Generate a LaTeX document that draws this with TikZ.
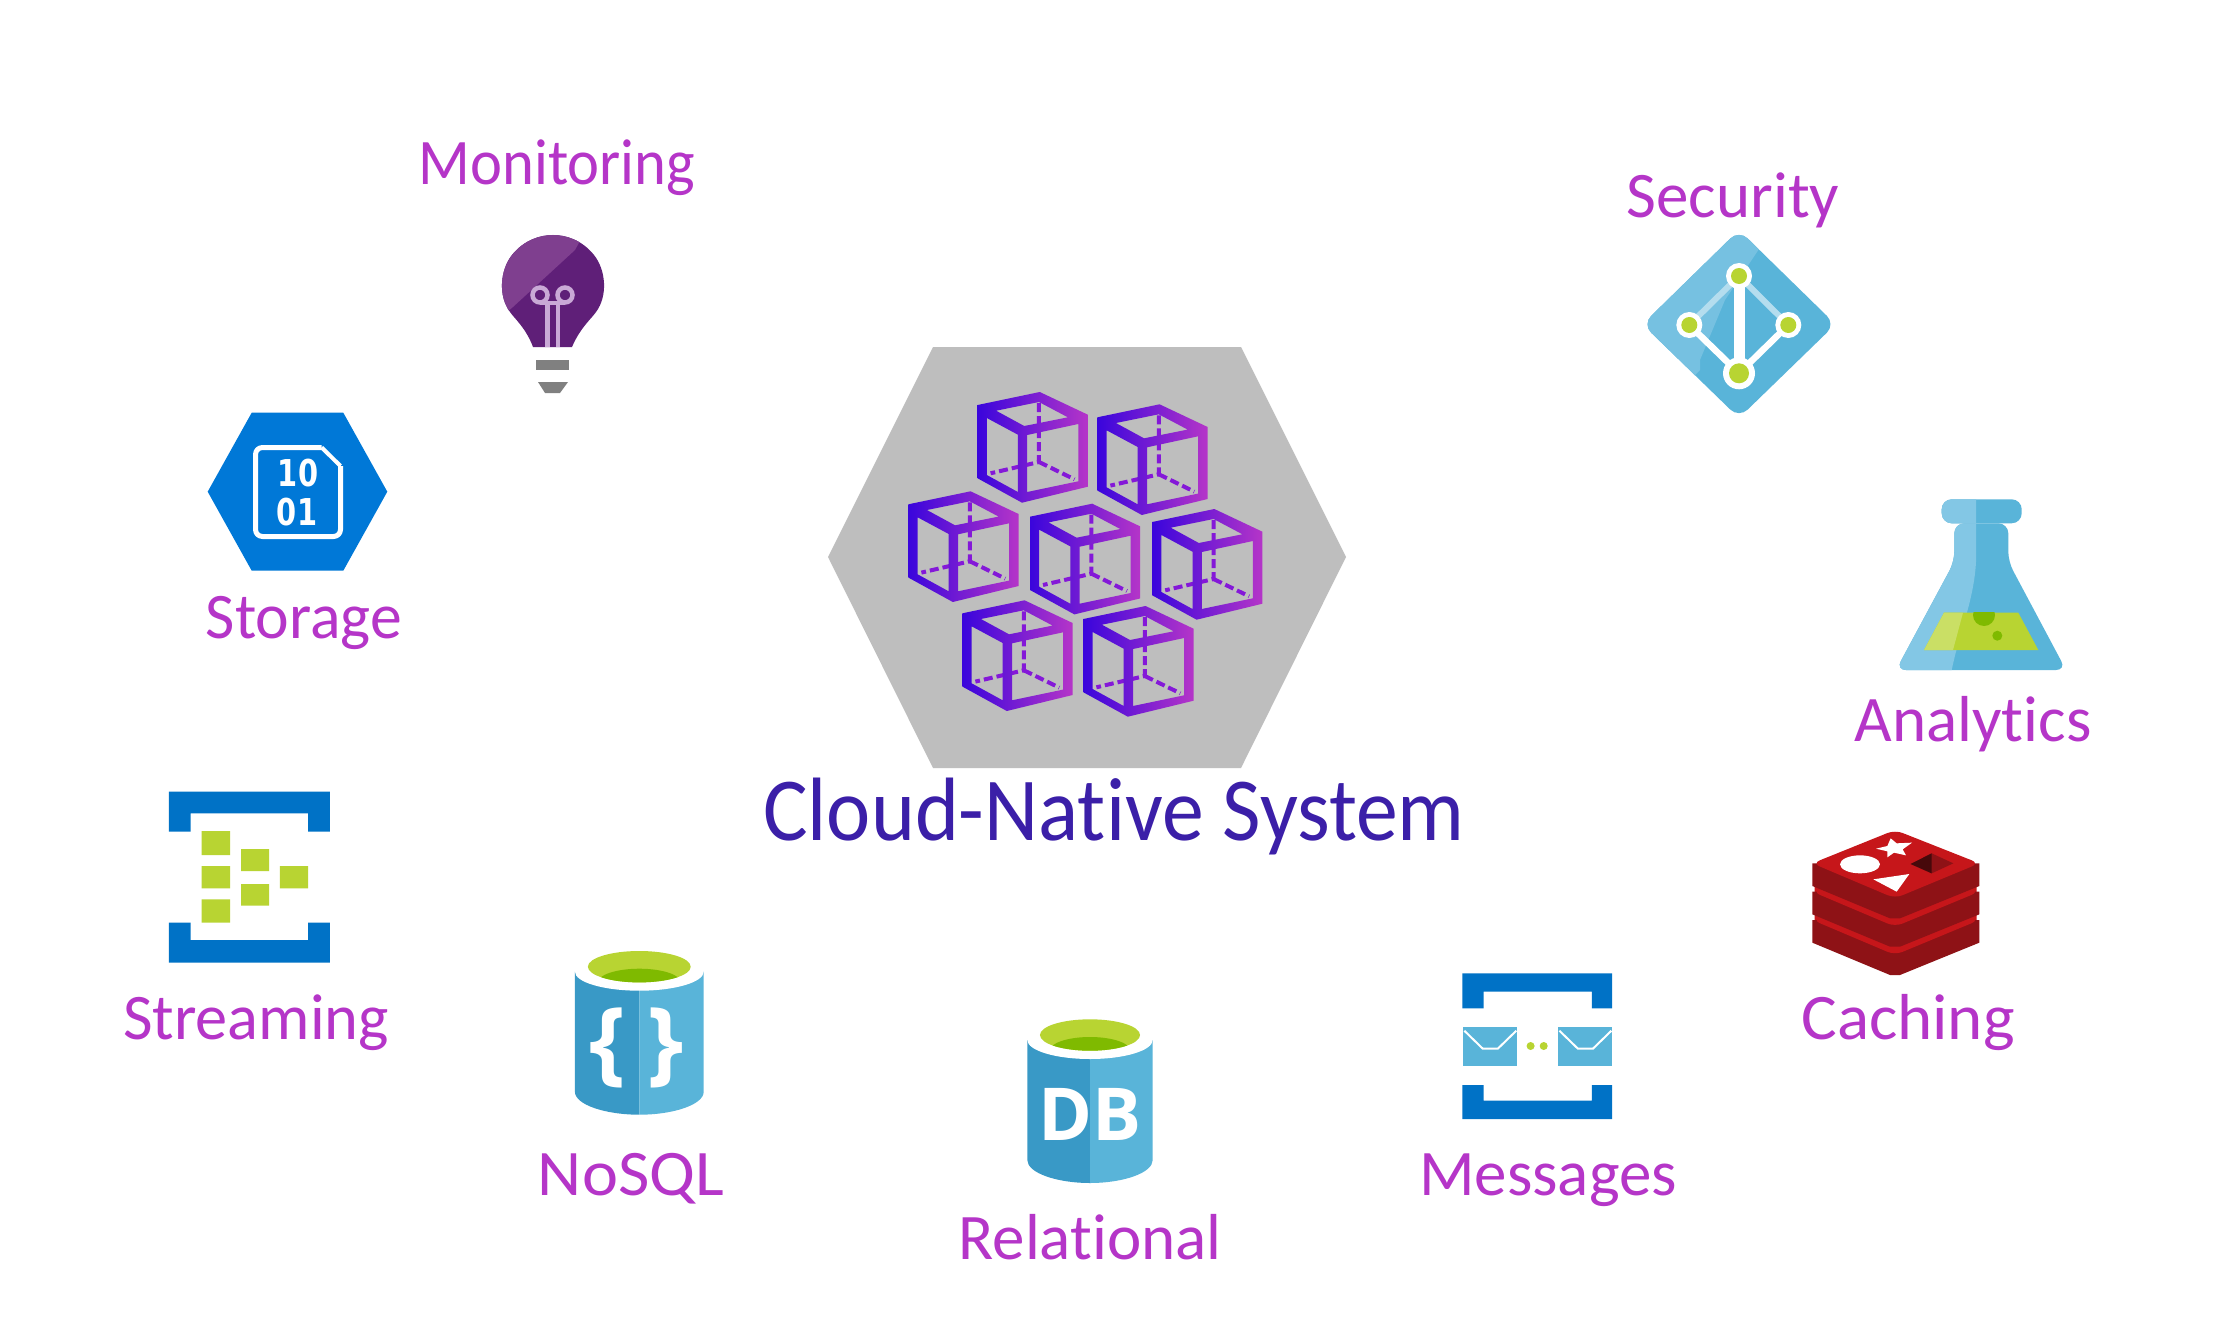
\documentclass[tikz,border=0pt]{standalone}
\usepackage{fontspec}
\usepackage{graphicx}
\setmainfont[Ligatures=NoCommon]{Carlito}
\newfontfamily\iconfont{Open Sans}
\newfontfamily\bitfont{DejaVu Sans}
\definecolor{labelc}{HTML}{B535C8}
\definecolor{titlec}{HTML}{3B1FA8}
\definecolor{hexc}{HTML}{BEBEBE}
\definecolor{azure}{HTML}{59B4D9}
\definecolor{azurelt}{HTML}{83C7E5}
\definecolor{azuredk}{HTML}{3999C6}
\definecolor{navy}{HTML}{0072C6}
\definecolor{leaf}{HTML}{B8D432}
\definecolor{leafdk}{HTML}{7FBA00}
\definecolor{bulbdk}{HTML}{5F1F78}
\definecolor{bulblt}{HTML}{7F3F8F}
\definecolor{filament}{HTML}{C9A9D6}
\definecolor{redlt}{HTML}{C6161A}
\definecolor{reddk}{HTML}{8E1216}
\definecolor{cubel}{HTML}{3A05DC}
\definecolor{cuber}{HTML}{B535C8}
\definecolor{cubedash}{HTML}{8418D8}
\tikzset{
  lab/.style={anchor=base,inner sep=0pt,text=labelc,font=\fontsize{65}{78}\selectfont},
  kubecube/.pic={
    \draw[line width=4,color=cubedash,dash pattern=on 9pt off 4pt] (55.3,-2) -- (55.3,57) -- (11.7,68.3);
    \draw[line width=4,color=cubedash,dash pattern=on 9pt off 4pt] (55.3,57) -- (87.3,74.3);
    \shade[even odd rule,left color=cubel,right color=cuber]
      (0,0) -- (56,-13) -- (99.3,9.7) -- (99.3,81.7) -- (40,97.7) -- (0,73.3) -- cycle
      (16.7,5.7) -- (55.3,-3) -- (81.3,12.3) -- (42,21) -- cycle
      (8.3,13) -- (36.3,29.7) -- (36.3,87) -- (8.3,70) -- cycle
      (44.7,30) -- (90.7,19) -- (90.7,76.3) -- (44.7,87) -- cycle;
  },
  dbcyl/.pic={
    \fill[azuredk] (-57,0) -- (-57,120) .. controls (-57,133) and (-30,143) .. (0,143) -- (0,0) -- cycle;
    \fill[azure] (57,0) -- (57,120) .. controls (57,133) and (30,143) .. (0,143) -- (0,0) -- cycle;
    \fill[white] (0,0) ellipse [x radius=57,y radius=19];
    \fill[leaf] (0,-5) ellipse [x radius=45.5,y radius=15.7];
    \begin{scope}
      \clip (0,-5) ellipse [x radius=45.5,y radius=15.7];
      \fill[leafdk] (0,11) ellipse [x radius=37,y radius=14];
    \end{scope}
  },
  envelope/.pic={
    \fill[azure] (0,0) rectangle (54,39.5);
    \draw[white,line width=2] (1,4) -- (19.5,22) -- (34.5,22) -- (53,4);
  }
}
\begin{document}
\begin{tikzpicture}[x=1pt,y=-1pt]
\useasboundingbox (0,0) rectangle (2239,1343);
\fill[white] (0,0) rectangle (2239,1343);

% central hexagon and cubes
\fill[hexc] (933,347) -- (1241,347) -- (1346,557) -- (1241,768) -- (933,768) -- (828,557) -- cycle;
\pic[xscale=1.11] at (977.6,405) {kubecube};
\pic[xscale=1.11] at (1097.4,417.3) {kubecube};
\pic[xscale=1.11] at (908.4,504.3) {kubecube};
\pic[xscale=1.11] at (1030,516.7) {kubecube};
\pic[xscale=1.11] at (1152.2,522) {kubecube};
\pic[xscale=1.11] at (962.4,613.3) {kubecube};
\pic[xscale=1.11] at (1083.4,619) {kubecube};
\node[anchor=base,inner sep=0pt,text=titlec,font=\fontsize{90}{108}\selectfont] (title) at (1114,840) {\scalebox{0.93}[1]{Cloud-Native System}};

% monitoring bulb
\begin{scope}
  \path[save path=\bulbpath] (533,347) .. controls (526,328) and (514,318) .. (510,312)
     .. controls (498,296) and (500,270) .. (512,255) .. controls (524,240) and (540,235) .. (553,235)
     .. controls (566,235) and (582,240) .. (594,255) .. controls (606,270) and (608,296) .. (596,312)
     .. controls (592,318) and (580,328) .. (572,347) -- cycle;
  \fill[bulbdk,use path=\bulbpath];
  \clip[use path=\bulbpath];
  \fill[bulblt] (495,230) -- (586,230) -- (575,250) -- (513,307) -- (495,322) -- cycle;
\end{scope}
\draw[color=filament,line width=4.5] (540,295) circle [radius=7.5] (565,295) circle [radius=7.5];
\draw[color=filament,line width=4.5] (547.5,347) -- (547.5,303) (558,347) -- (558,303) (540,303) -- (565,303);
\fill[black!50] (536,360) rectangle (569,370);
\fill[black!50] (538,382) -- (568,382) -- (560,393) -- (545,393) -- cycle;
\node[lab] (monitoring) at (557,185) {\scalebox{0.932}[1]{Monitoring}};

% storage
\fill[color={rgb,255:red,0;green,120;blue,215}] (251.7,412.7) -- (343.3,412.7) -- (387.3,491.7) -- (343.3,570.7) -- (251.7,570.7) -- (207.7,491.7) -- cycle;
\draw[white,line width=5,rounded corners=7,line join=round] (321.7,447.5) -- (255.5,447.5) -- (255.5,536.5) -- (340.5,536.5) -- (340.5,466);
\draw[white,line width=4] (321.7,447.5) -- (340.5,466);
\node[inner sep=0pt,text=white,font=\bitfont\bfseries\fontsize{37}{37}\selectfont] (bits1) at (298,473) {\scalebox{0.78}[1]{10}};
\node[inner sep=0pt,text=white,font=\bitfont\bfseries\fontsize{37}{37}\selectfont] (bits2) at (297,512) {\scalebox{0.78}[1]{01}};
\node[lab] (storage) at (304,638) {\scalebox{0.98}[1]{Storage}};

% streaming
\fill[navy] (168.8,791.7) -- (329.9,791.7) -- (329.9,831.7) -- (308,831.7) -- (308,813.3) -- (190.6,813.3) -- (190.6,831.7) -- (168.8,831.7) -- cycle;
\fill[navy] (168.8,962.7) -- (329.9,962.7) -- (329.9,922.7) -- (308,922.7) -- (308,940) -- (190.6,940) -- (190.6,922.7) -- (168.8,922.7) -- cycle;
\fill[leaf] (201.6,831) rectangle (230.2,855) (201.6,866) rectangle (230.2,888.3) (201.6,899.3) rectangle (230.2,922.7)
  (241,849) rectangle (269,871) (241,884) rectangle (269,905.7) (279.8,866) rectangle (308,888.3);
\node[lab] (streaming) at (256,1039) {\scalebox{0.99}[1]{Streaming}};

% NoSQL
\pic[xscale=1.13] at (639.3,971.7) {dbcyl};
\node[inner sep=0pt,text=white,font=\iconfont\bfseries\fontsize{92}{92}\selectfont] (bracel) at (608,1048) {\{};
\node[inner sep=0pt,text=white,font=\iconfont\bfseries\fontsize{92}{92}\selectfont] (bracer) at (666,1048) {\}};
\node[lab] (nosql) at (631,1195) {\scalebox{1.05}[1]{NoSQL}};

% relational
\pic[xscale=1.10] at (1090,1040) {dbcyl};
\node[inner sep=0pt,text=white,anchor=base,font=\iconfont\bfseries\fontsize{73}{73}\selectfont] (db) at (1090,1140.7) {DB};
\node[lab] (relational) at (1090,1259) {Relational};

% messages
\fill[navy] (1462.4,973.3) -- (1612.2,973.3) -- (1612.2,1008.3) -- (1591.8,1008.3) -- (1591.8,991.7) -- (1483.7,991.7) -- (1483.7,1008.3) -- (1462.4,1008.3) -- cycle;
\fill[navy] (1462.4,1119) -- (1612.2,1119) -- (1612.2,1085) -- (1591.8,1085) -- (1591.8,1100.7) -- (1483.7,1100.7) -- (1483.7,1085) -- (1462.4,1085) -- cycle;
\pic at (1463.3,1026.7) {envelope};
\pic at (1558.4,1026.7) {envelope};
\fill[leaf] (1530.6,1046) circle [radius=4] (1543.7,1046) circle [radius=4];
\node[lab] (messages) at (1548,1195) {Messages};

% redis
\begin{scope}[shift={(1780,810)},scale=1/3]
  \fill[redlt] (104,170) -- (104,395) -- (345,490) -- (590,395) -- (590,170) -- (345,70) -- cycle;
  \foreach \d in {170,85,0}{
    \fill[reddk] (97,160+\d) -- (97,228+\d) -- (330,325+\d) -- (360,325+\d) -- (598,228+\d) -- (598,160+\d) -- cycle;
    \fill[redlt,rounded corners=8] (97,160+\d) -- (345,60+\d) -- (598,160+\d) -- (345,265+\d) -- cycle;
  }
  \fill[white] (332,85) -- (350,100) -- (396,98) -- (368,118) -- (378,136) -- (342,128) -- (322,142) -- (322,124) -- (288,116) -- (322,108) -- cycle;
  \fill[white] (240,163) ellipse [x radius=60,y radius=27];
  \fill[white] (280,208) -- (388,192) -- (350,245) -- cycle;
  \fill[reddk] (392,162) -- (455,130) -- (520,160) -- (455,190) -- cycle;
  \fill[black!50!reddk] (392,162) -- (455,130) -- (455,190) -- cycle;
\end{scope}
\node[lab] (caching) at (1908,1039) {\scalebox{1.03}[1]{Caching}};

% analytics flask
\begin{scope}
  \path[save path=\flaskpath,rounded corners=10] (1954.3,523.3) -- (1954.3,561.7) -- (1896,670) -- (2066,670) -- (2008.3,561.7) -- (2008.3,523.3) -- cycle;
  \path[save path=\lippath,rounded corners=10] (1941.7,499.3) rectangle (2021.7,523.3);
  \fill[azure,use path=\flaskpath];
  \fill[azure,use path=\lippath];
  \begin{scope}
    \clip (1930,490) -- (1976,490) -- (1976,561.7) .. controls (1974,600) and (1960,630) .. (1951.7,670) -- (1951.7,680) -- (1890,680) -- (1890,490) -- cycle;
    \fill[azurelt,use path=\flaskpath];
    \fill[azurelt,use path=\lippath];
  \end{scope}
\end{scope}
\fill[leaf] (1944,612.7) -- (2018.3,612.7) -- (2038.3,650) -- (1924,650) -- cycle;
\fill[leaf!75!white] (1944,612.7) -- (1963,612.7) -- (1953,650) -- (1924,650) -- cycle;
\begin{scope}
  \clip (1944,612.7) rectangle (2018.3,650);
  \fill[leafdk] (1984,615) circle [radius=11];
\end{scope}
\fill[leafdk] (1997.3,635.7) circle [radius=5];
\node[lab] (analytics) at (1973,741) {Analytics};

% security diamond
\path[save path=\diapath,rounded corners=12] (1739,230) -- (1835.5,324.3) -- (1739,418) -- (1642.5,324.3) -- cycle;
\fill[azure,use path=\diapath];
\begin{scope}
  \clip (1640,225) -- (1775,225) -- (1725,300) -- (1700,360) -- (1700,370) -- (1690,380) -- (1700,425) -- (1640,425) -- cycle;
  \fill[azurelt!70!azure,use path=\diapath];
\end{scope}
\draw[color=azure!45!white,line width=6] (1739,276) -- (1689.3,325) (1739,276) -- (1788.3,325);
\draw[white,line width=6.5] (1689.3,325) -- (1739,373.3) -- (1788.3,325);
\draw[white,line width=11] (1739,276) -- (1739,373.3);
\fill[white] (1739,276) circle [radius=13] (1689.3,325) circle [radius=13] (1788.3,325) circle [radius=13] (1739,373.3) circle [radius=16];
\fill[leaf] (1739,276) circle [radius=8] (1689.3,325) circle [radius=8] (1788.3,325) circle [radius=8] (1739,373.3) circle [radius=10];
\node[lab] (security) at (1733,218) {Security};
\end{tikzpicture}
\end{document}
